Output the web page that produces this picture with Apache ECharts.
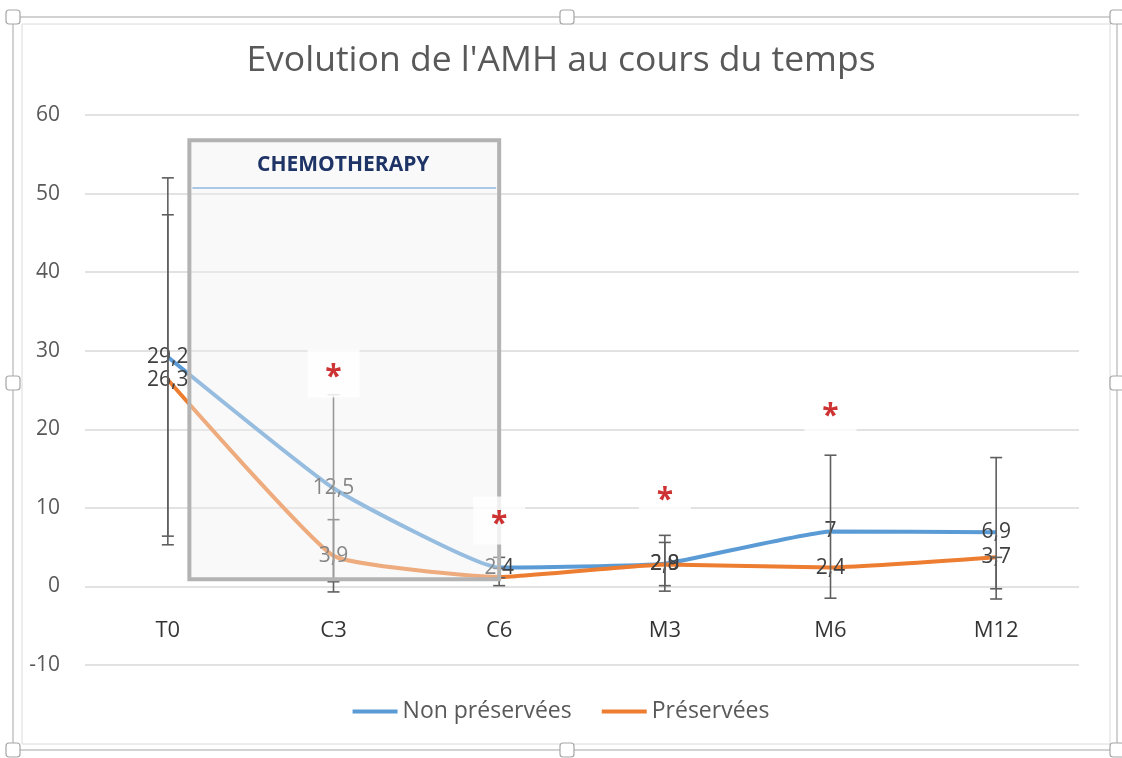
<!DOCTYPE html>
<html>
<head>
<meta charset="utf-8">
<script src="https://cdn.jsdelivr.net/npm/echarts@6/dist/echarts.min.js"></script>
<style>
html,body{margin:0;padding:0;background:#fff;}
#chart{width:1122px;height:758px;}
</style>
</head>
<body>
<div id="chart"></div>
<script>
// ---- data ----
const categories = ['T0', 'C3', 'C6', 'M3', 'M6', 'M12'];
const yTicks = [-10, 0, 10, 20, 30, 40, 50, 60];
const nonPreservees = [29.2, 12.5, 2.4, 2.9, 7.0, 6.9];
const preservees = [26.3, 3.9, 1.2, 2.8, 2.4, 3.7];
const nonPreserveesLow = [6.4, 0.6, 1.1, -0.6, -1.5, -1.6];
const nonPreserveesHigh = [52.0, 24.4, 3.7, 6.5, 16.7, 16.4];
const preserveesLow = [5.3, -0.7, 0.1, 0.1, 2.4, -0.3];
const preserveesHigh = [47.3, 8.5, 2.3, 5.6, 2.4, 3.7];
const preserveesLabelShown = [true, true, false, true, true, true];
const significance = [null, 27.1, 8.4, 11.5, 22.1, null];
const chemoLabel = 'CHEMOTHERAPY';
const chemoSpan = [0.13, 2.0];   // category-index units
const chemoRange = [0.9, 56.8];  // value units
const chemoInnerLine = 50.7;

const FONT = '"Open Sans", "Liberation Sans", sans-serif';
const fmt = v => String(v).replace('.', ',');

function errorData(low, high) {
  return categories.map((c, i) => [i, low[i], high[i]]);
}

function renderError(params, api) {
  const i = api.value(0), lo = api.value(1), hi = api.value(2);
  if (lo === hi) return null;
  const pLo = api.coord([i, lo]);
  const pHi = api.coord([i, hi]);
  const cap = 6;
  const style = { stroke: '#5f5f5f', lineWidth: 1.6 };
  return {
    type: 'group',
    children: [
      { type: 'line', shape: { x1: pLo[0], y1: pLo[1], x2: pHi[0], y2: pHi[1] }, style },
      { type: 'line', shape: { x1: pLo[0] - cap, y1: pLo[1], x2: pLo[0] + cap, y2: pLo[1] }, style },
      { type: 'line', shape: { x1: pHi[0] - cap, y1: pHi[1], x2: pHi[0] + cap, y2: pHi[1] }, style }
    ]
  };
}

function renderChemo(params, api) {
  const tl = api.coord([chemoSpan[0], chemoRange[1]]);
  const br = api.coord([chemoSpan[1], chemoRange[0]]);
  const yl = api.coord([chemoSpan[0], chemoInnerLine])[1];
  return {
    type: 'group',
    children: [
      { type: 'rect', shape: { x: tl[0], y: tl[1], width: br[0] - tl[0], height: br[1] - tl[1] },
        style: { fill: 'rgba(240,240,240,0.4)', stroke: '#b3b3b3', lineWidth: 4 } },
      { type: 'line', shape: { x1: tl[0] + 3, y1: yl, x2: br[0] - 3, y2: yl },
        style: { stroke: '#8fb8e2', lineWidth: 1.6 } },
      { type: 'text', x: (tl[0] + br[0]) / 2 - 1, y: tl[1] + 25,
        style: { text: chemoLabel, fill: '#1f3466', font: 'bold 21px ' + FONT, align: 'center', verticalAlign: 'middle' } }
    ]
  };
}

const chart = echarts.init(document.getElementById('chart'));
const option = {
  animation: false,
  backgroundColor: '#fff',
  title: {
    text: "Evolution de l'AMH au cours du temps",
    left: 'center',
    top: 43,
    padding: 0,
    textStyle: { fontFamily: FONT, fontSize: 35.5, fontWeight: 'normal', color: '#595959' }
  },
  legend: {
    data: ['Non préservées', 'Préservées'],
    bottom: 30,
    left: 'center',
    itemWidth: 45,
    itemHeight: 4,
    itemGap: 30,
    icon: 'rect',
    textStyle: { fontFamily: FONT, fontSize: 23, color: '#595959' }
  },
  grid: { left: 85, right: 43, top: 115, bottom: 93, containLabel: false },
  xAxis: [
    {
      type: 'category',
      data: categories,
      boundaryGap: true,
      axisLine: { show: false },
      axisTick: { show: false },
      axisLabel: { show: false },
      splitLine: { show: false }
    },
    {
      type: 'value',
      min: -0.5,
      max: categories.length - 0.5,
      show: false
    }
  ],
  yAxis: {
    type: 'value',
    min: yTicks[0],
    max: yTicks[yTicks.length - 1],
    interval: 10,
    axisLine: { show: false },
    axisTick: { show: false },
    axisLabel: { margin: 25, fontFamily: FONT, fontSize: 21, color: '#595959' },
    splitLine: { lineStyle: { color: '#d9d9d9', width: 1.5 } }
  },
  series: [
    {
      name: 'Non préservées',
      type: 'line',
      data: nonPreservees,
      smooth: 0.12,
      symbol: 'circle',
      symbolSize: 1,
      z: 2,
      itemStyle: { color: '#5b9bd5' },
      lineStyle: { color: '#5b9bd5', width: 4 },
      label: { show: true, position: 'inside', formatter: p => fmt(p.value),
        fontFamily: FONT, fontSize: 21, color: '#404040' }
    },
    {
      name: 'Préservées',
      type: 'line',
      data: preservees.map((v, i) => ({ value: v, label: { show: preserveesLabelShown[i] } })),
      smooth: 0.12,
      symbol: 'circle',
      symbolSize: 1,
      z: 2,
      itemStyle: { color: '#ed7d31' },
      lineStyle: { color: '#ed7d31', width: 4 },
      label: { show: true, position: 'inside', formatter: p => fmt(p.value),
        fontFamily: FONT, fontSize: 21, color: '#404040' }
    },
    {
      name: 'errNP',
      type: 'custom',
      renderItem: renderError,
      data: errorData(nonPreserveesLow, nonPreserveesHigh),
      encode: { x: 0, y: [1, 2] },
      z: 3,
      silent: true
    },
    {
      name: 'errP',
      type: 'custom',
      renderItem: renderError,
      data: errorData(preserveesLow, preserveesHigh),
      encode: { x: 0, y: [1, 2] },
      z: 3,
      silent: true
    },
    {
      name: 'chemo',
      type: 'custom',
      xAxisIndex: 1,
      renderItem: renderChemo,
      data: [[chemoSpan[0], chemoRange[0], chemoSpan[1], chemoRange[1]]],
      encode: { x: [0, 2], y: [1, 3] },
      z: 4,
      silent: true
    },
    {
      name: 'signif',
      type: 'scatter',
      data: significance,
      symbol: 'rect',
      symbolSize: [52, 48],
      itemStyle: { color: '#ffffff' },
      z: 5,
      silent: true,
      label: { show: true, position: 'inside', formatter: '*', offset: [0, 4],
        fontFamily: FONT, fontSize: 30, fontWeight: 'bold', color: '#c00000' }
    },
    {
      name: 'categoryLabels',
      type: 'scatter',
      data: categories.map((c, i) => [i, 0]),
      symbolSize: 0,
      silent: true,
      z: 1,
      label: { show: true, position: 'bottom', distance: 33, formatter: p => categories[p.dataIndex],
        fontFamily: FONT, fontSize: 22, color: '#000' }
    }
  ],
  graphic: [
    { type: 'rect', shape: { x: 13, y: 17, width: 1104, height: 733 }, style: { fill: 'none', stroke: '#c4c4c4', lineWidth: 1.5 }, z: 100 },
    { type: 'rect', shape: { x: 22, y: 24, width: 1088, height: 720 }, style: { fill: 'none', stroke: '#dadada', lineWidth: 1 }, z: 100 },
    ...[[13,17],[567,17],[1117,17],[13,383],[1117,383],[13,750],[567,750],[1117,750]].map(p => ({
      type: 'rect', shape: { x: p[0] - 7, y: p[1] - 7, width: 14, height: 14, r: 3 },
      style: { fill: '#fff', stroke: '#a6a6a6', lineWidth: 1.2 }, z: 101
    }))
  ]
};
chart.setOption(option);
</script>
</body>
</html>
